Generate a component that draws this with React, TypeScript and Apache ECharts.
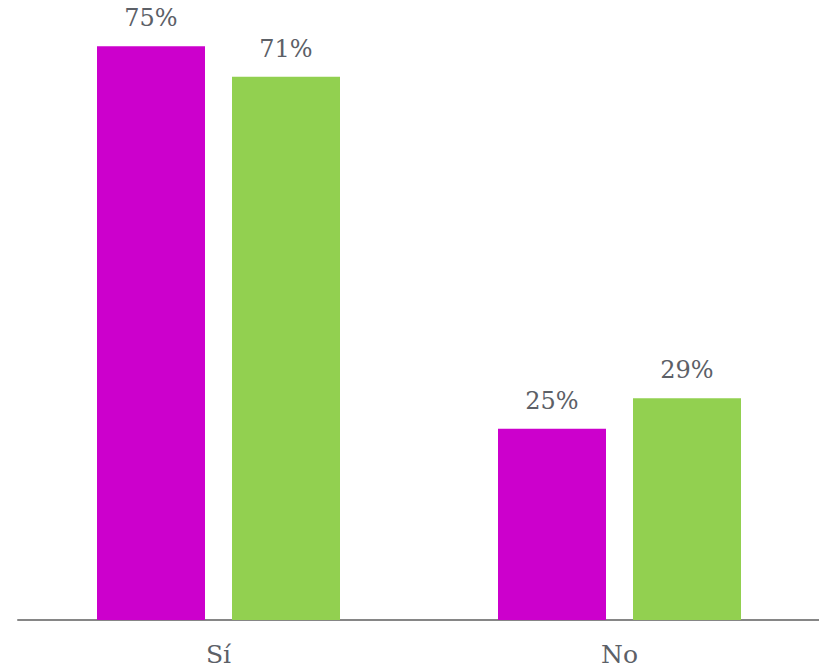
import React, { useEffect, useRef } from "react";
import * as echarts from "echarts";

const categories = ["Sí", "No"];
const seriesA = [75, 25];
const seriesB = [71, 29];
const colors = ["#CC00CC", "#92D050"];

export default function App() {
  const ref = useRef<HTMLDivElement>(null);
  useEffect(() => {
    const chart = echarts.init(ref.current!, null, { renderer: "svg" });
    const font = "'DejaVu Serif', serif";
    const label = {
      show: true,
      position: "top" as const,
      distance: 16,
      formatter: "{c}%",
      color: "#5C6067",
      fontSize: 24,
      fontFamily: font,
    };
    chart.setOption({
      animation: false,
      grid: { left: 18, right: 7, top: 8, bottom: 51, containLabel: false },
      xAxis: {
        type: "category",
        data: categories,
        axisLine: { lineStyle: { color: "#868686", width: 2 } },
        axisTick: { show: false },
        axisLabel: { color: "#5C6067", fontSize: 25, fontFamily: font, margin: 22 },
      },
      yAxis: {
        type: "value",
        min: 0,
        max: 80,
        show: false,
        splitLine: { show: false },
      },
      series: [
        {
          type: "bar",
          data: seriesA,
          barWidth: 108,
          barGap: "25%",
          itemStyle: { color: colors[0] },
          label,
        },
        {
          type: "bar",
          data: seriesB,
          barWidth: 108,
          barGap: "25%",
          itemStyle: { color: colors[1] },
          label,
        },
      ],
    });
    return () => chart.dispose();
  }, []);
  return <div ref={ref} style={{ width: 827, height: 671, margin: -8 }} />;
}
